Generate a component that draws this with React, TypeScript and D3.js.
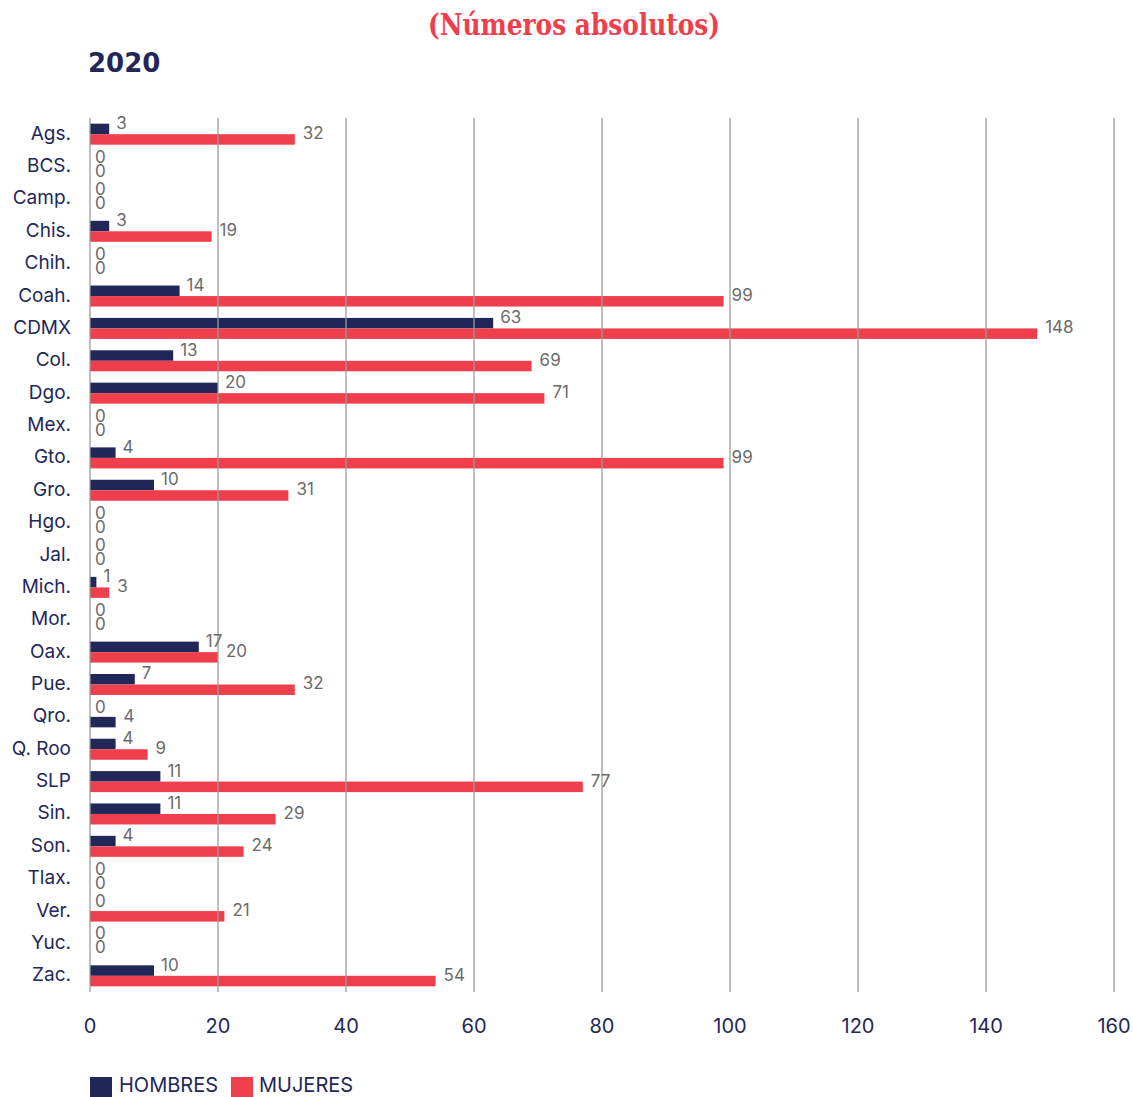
import React from "react";
import * as d3 from "d3";

const categories = ["Ags.", "BCS.", "Camp.", "Chis.", "Chih.", "Coah.", "CDMX", "Col.", "Dgo.", "Mex.", "Gto.", "Gro.", "Hgo.", "Jal.", "Mich.", "Mor.", "Oax.", "Pue.", "Qro.", "Q. Roo", "SLP", "Sin.", "Son.", "Tlax.", "Ver.", "Yuc.", "Zac."];
const hombres = [3, 0, 0, 3, 0, 14, 63, 13, 20, 0, 4, 10, 0, 0, 1, 0, 17, 7, 0, 4, 11, 11, 4, 0, 0, 0, 10];
const mujeres = [32, 0, 0, 19, 0, 99, 148, 69, 71, 0, 99, 31, 0, 0, 3, 0, 20, 32, 4, 9, 77, 29, 24, 0, 21, 0, 54];
const xTicks = [0, 20, 40, 60, 80, 100, 120, 140, 160];
const seriesNames = ["HOMBRES", "MUJERES"];
const title = "(Números absolutos)";
const year = "2020";

const NAVY = "#22275a";
const RED = "#ef3f4c";
const GRAY = "#6b6b6b";
const FONT = "Inter, 'Noto Sans', sans-serif";

export default function App() {
  const W = 1133, H = 1097;
  const x = d3.scaleLinear().domain([0, 160]).range([90, 1114]);
  const y = d3.scaleBand().domain(categories).range([118, 992]).paddingInner(0).paddingOuter(0);
  const barH = 10.5;
  const cy = (c: string) => (y(c) as number) + y.bandwidth() / 2;

  return (
    <svg width={W} height={H} style={{ position: "absolute", left: 0, top: 0 }} xmlns="http://www.w3.org/2000/svg">
      <rect width={W} height={H} fill="#fff" />
      <text x={428} y={35} fill={RED} fontFamily="'DejaVu Serif', serif" fontWeight="bold" fontSize={29} textLength={292} lengthAdjust="spacingAndGlyphs">{title}</text>
      <text x={88} y={72} fill={NAVY} fontFamily="'DejaVu Sans', sans-serif" fontWeight="bold" fontSize={26}>{year}</text>

      {/* bars */}
      {categories.map((c, i) => {
        const m = cy(c);
        const secondColor = c === "Qro." ? NAVY : RED;
        return (
          <g key={c}>
            <rect x={x(0)} y={m - barH} width={x(hombres[i]) - x(0)} height={barH} fill={NAVY} />
            <rect x={x(0)} y={m} width={x(mujeres[i]) - x(0)} height={barH} fill={secondColor} />
          </g>
        );
      })}

      {/* gridlines */}
      {xTicks.map((t) => (
        <line key={t} x1={x(t)} x2={x(t)} y1={118} y2={992} stroke="#9a9a9a" strokeOpacity={0.85} strokeWidth={1.5} />
      ))}

      {/* value labels */}
      {categories.map((c, i) => {
        const m = cy(c);
        const h = hombres[i], w = mujeres[i];
        return (
          <g key={c + "l"} fontFamily={FONT} fontSize={17} fill={GRAY}>
            <text x={x(h) + (h === 0 ? 5 : 7)} y={h === 0 ? m - 10 : m - 11} dominantBaseline="central">{h}</text>
            <text x={x(w) + (w === 0 ? 5 : 8)} y={w === 0 ? m + 4 : m - 1} dominantBaseline="central">{w}</text>
          </g>
        );
      })}

      {/* category labels */}
      {categories.map((c) => (
        <text key={c + "c"} x={71} y={cy(c) - 1} textAnchor="end" dominantBaseline="central" fontFamily={FONT} fontSize={19} fill={NAVY}>{c}</text>
      ))}

      {/* x tick labels */}
      {xTicks.map((t) => (
        <text key={t + "t"} x={x(t)} y={1026} textAnchor="middle" dominantBaseline="central" fontFamily={FONT} fontSize={20} fill={NAVY}>{t}</text>
      ))}

      {/* legend */}
      <rect x={90} y={1077} width={22} height={22} fill={NAVY} />
      <text x={119} y={1085} dominantBaseline="central" fontFamily={FONT} fontSize={20} fill={NAVY}>{seriesNames[0]}</text>
      <rect x={231} y={1077} width={22} height={22} fill={RED} />
      <text x={259} y={1085} dominantBaseline="central" fontFamily={FONT} fontSize={20} fill={NAVY}>{seriesNames[1]}</text>
    </svg>
  );
}
